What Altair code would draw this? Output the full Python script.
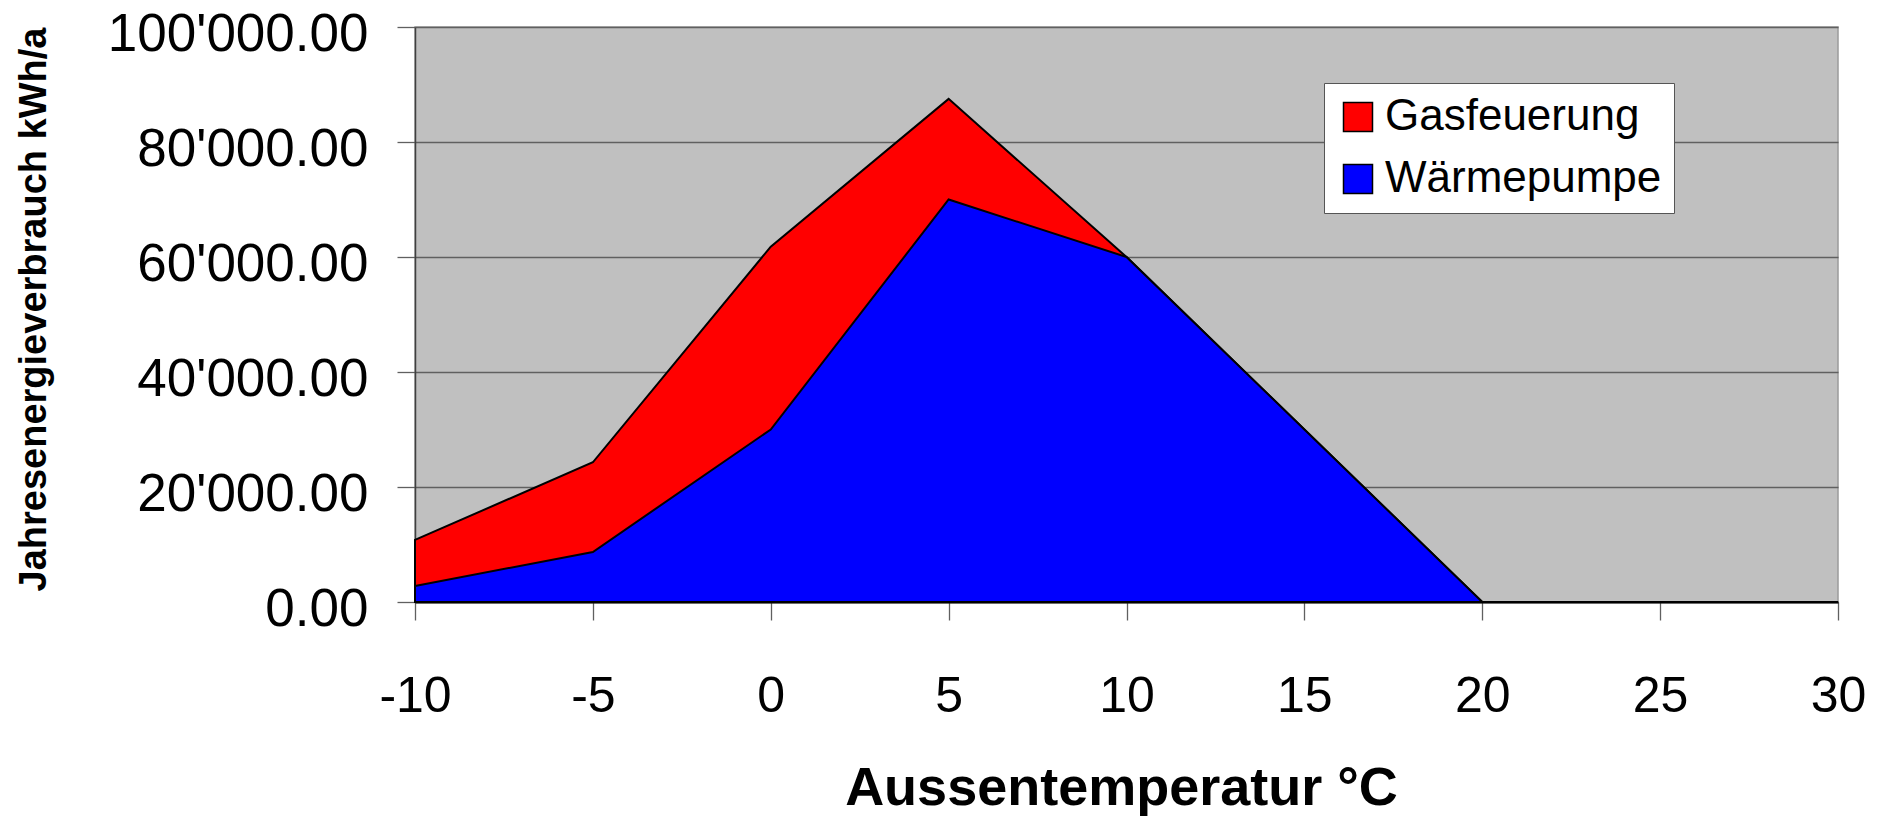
import altair as alt
import pandas as pd

temps = [-10, -5, 0, 5, 10, 15, 20, 25, 30]
gasfeuerung = [10800, 24300, 61800, 87500, 60000, 30000, 0, 0, 0]
waermepumpe = [2800, 8700, 30000, 70000, 60000, 30000, 0, 0, 0]
series = ["Gasfeuerung", "Wärmepumpe"]
colors = ["#FF0000", "#0000FF"]
y_ticks = [0, 20000, 40000, 60000, 80000, 100000]
x_ticks = [-10, -5, 0, 5, 10, 15, 20, 25, 30]

df = pd.DataFrame({
    "temp": temps + temps,
    "value": gasfeuerung + waermepumpe,
    "series": [series[0]] * len(temps) + [series[1]] * len(temps),
})

color = alt.Color(
    "series:N",
    scale=alt.Scale(domain=series, range=colors),
    legend=alt.Legend(
        title=None,
        orient="none",
        legendX=909,
        legendY=56,
        fillColor="white",
        strokeColor="#555555",
        padding=12,
        symbolType="square",
        symbolSize=841,
        symbolStrokeColor="black",
        symbolStrokeWidth=1.5,
        symbolOpacity=1,
        labelFont="Liberation Sans",
        labelFontSize=44,
        labelColor="black",
        labelOffset=5,
        labelLimit=500,
        rowPadding=18,
    ),
)

base = alt.Chart(df).mark_area(
    stroke="black", strokeWidth=2, interpolate="linear", opacity=1
).encode(
    x=alt.X(
        "temp:Q",
        scale=alt.Scale(domain=[-10, 30], nice=False, zero=False),
        axis=alt.Axis(
            values=x_ticks,
            labelExpr="toString(datum.value)",
            title="Aussentemperatur °C",
            grid=False,
            labelFont="Liberation Sans",
            labelFontSize=50,
            labelColor="black",
            labelBaseline="alphabetic",
            labelPadding=91,
            labelFlush=False,
            labelOverlap=False,
            tickSize=18,
            tickColor="#606060",
            tickWidth=1.3,
            domainColor="black",
            domainWidth=2,
            titleFont="Liberation Sans",
            titleFontWeight="bold",
            titleFontSize=54,
            titleColor="black",
            titleAlign="center",
            titleBaseline="alphabetic",
            titleX=706,
            titleY=202,
        ),
    ),
    y=alt.Y(
        "value:Q",
        stack=None,
        scale=alt.Scale(domain=[0, 100000], nice=False),
        axis=alt.Axis(
            values=y_ticks,
            labelExpr="replace(format(datum.value, ',.2f'), ',', \"'\")",
            title="Jahresenergieverbrauch kWh/a",
            grid=True,
            gridColor="#606060",
            gridWidth=1.3,
            labelFont="Liberation Sans",
            labelFontSize=53,
            labelColor="black",
            labelBaseline="alphabetic",
            labelOffset=23,
            labelPadding=29,
            labelFlush=False,
            labelOverlap=False,
            labelLimit=500,
            tickSize=18,
            tickColor="#606060",
            tickWidth=1.3,
            domainColor="#404040",
            domainWidth=1.5,
            titleFont="Liberation Sans",
            titleFontWeight="bold",
            titleFontSize=38,
            titleColor="black",
            titleAngle=-90,
            titleAlign="center",
            titleBaseline="alphabetic",
            titleX=-370,
            titleY=282,
        ),
    ),
    color=color,
)

gas = base.transform_filter(alt.datum.series == "Gasfeuerung")
wp = base.transform_filter(alt.datum.series == "Wärmepumpe")

chart = alt.layer(gas, wp).properties(
    width=1423,
    height=575,
    padding={"left": 407, "top": 19, "right": 35, "bottom": 214},
    autosize=alt.AutoSizeParams(type="none"),
    background="white",
).configure_view(
    fill="#C0C0C0",
    stroke="#9a9a9a",
    strokeWidth=1.5,
)

chart.save("out.html", embed_options={"renderer": "svg", "actions": False})
